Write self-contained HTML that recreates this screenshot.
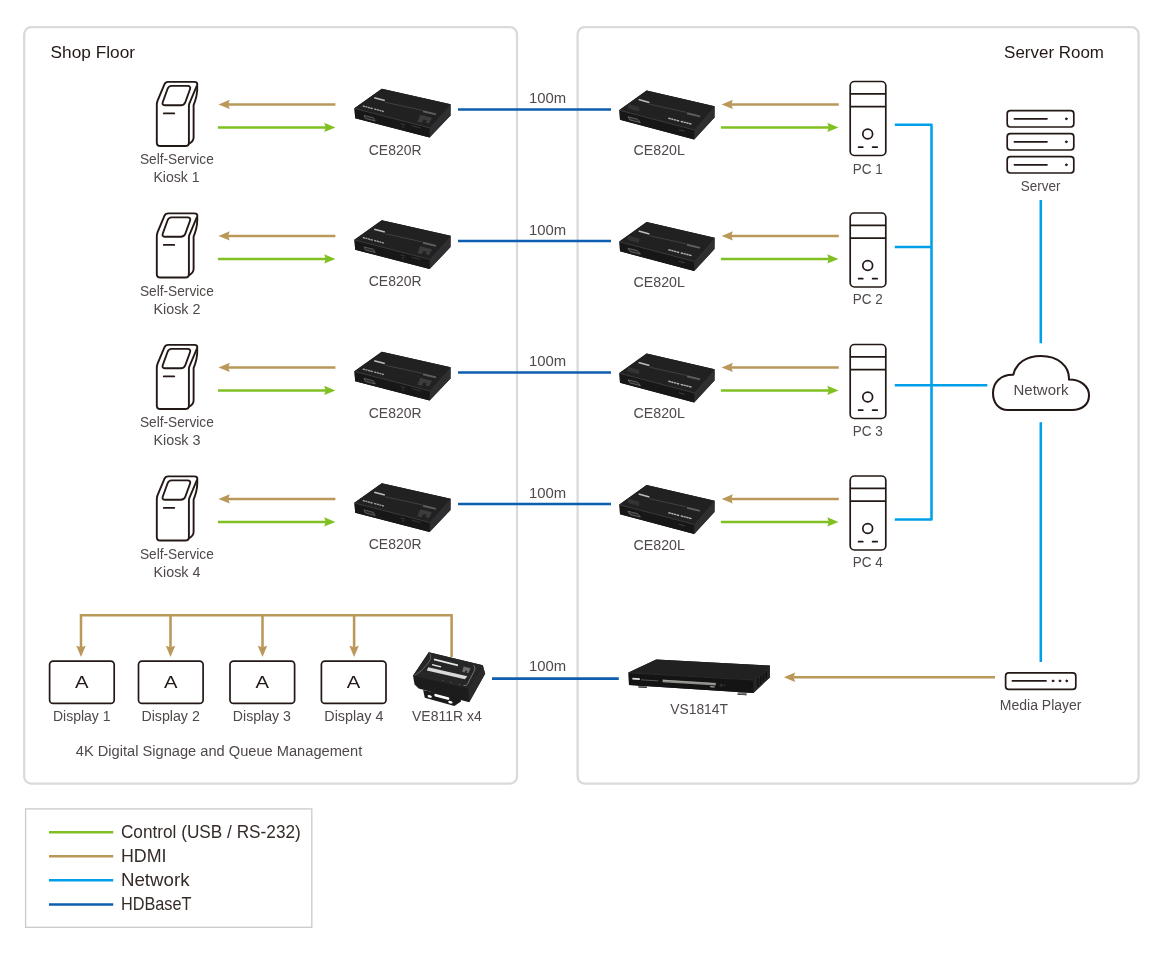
<!DOCTYPE html>
<html><head><meta charset="utf-8"><title>Diagram</title>
<style>
html,body{margin:0;padding:0;background:#fff;}
body{width:1170px;height:953px;overflow:hidden;font-family:"Liberation Sans",sans-serif;}
svg{display:block;will-change:transform;}
text{font-family:"Liberation Sans",sans-serif;}
</style></head><body>
<svg width="1170" height="953" viewBox="0 0 1170 953">
<defs>

<path id="ah" d="M0 0 L-11.2 -4.7 L-9.7 0 L-11.2 4.7 Z"/>
<g id="kiosk" fill="none" stroke="#231815" stroke-width="1.9" stroke-linejoin="round" stroke-linecap="round">
<path d="M197.2 84.4 Q197.6 92 196.3 96.8 Q195.3 100.8 193.6 105.2 V137.6 Q193.6 141.8 188 144.4"/>
<path d="M168.2 81.9 H194.2 Q198.3 81.9 196.9 85.6 L189.4 103.4 Q188.9 104.8 188.9 106 V142.4 Q188.9 146 185.2 146 H160.4 Q156.8 146 156.8 142.4 V105 Q156.8 102.6 157.6 100.6 L164.4 84.4 Q165.4 81.9 168.2 81.9 Z" fill="#fff"/>
<path d="M171.6 85.9 H187.4 Q191.2 85.9 190 89.2 L185.4 102 Q184.2 105.3 180.8 105.3 H165.4 Q161.6 105.3 162.8 102 L167.6 88.8 Q168.7 85.9 171.6 85.9 Z"/>
<path d="M163.8 113.4 H174.2"/>
</g>
<g id="pc" fill="none" stroke="#231815" stroke-width="1.7" stroke-linejoin="round" stroke-linecap="round">
<rect x="850.2" y="81.5" width="35.6" height="74" rx="4.2" fill="#fff"/>
<path d="M850.2 93.8 H885.8 M850.2 106.6 H885.8" stroke-linecap="butt"/>
<circle cx="867.7" cy="134" r="4.9"/>
<path d="M858.6 147.2 H862.8 M872.6 147.2 H877.2"/>
</g>
<g id="cer">
<path d="M381.8 88.8 L450.6 104.2 L450.5 115.6 L429.6 137.6 L355.2 118.2 L354.4 108.2 Z" fill="#1a1a1b"/>
<path d="M381.8 88.8 L450.6 104.2 L429.8 127.6 L354.4 108.2 Z" fill="#212122"/>
<path d="M354.4 108.2 L429.8 127.6 L429.6 137.6 L355.2 118.2 Z" fill="#171718"/>
<path d="M429.8 127.6 L450.6 104.2 L450.5 115.6 L429.6 137.6 Z" fill="#2f2f31"/>
<path d="M354.8 108.5 L429.8 127.9" stroke="#454547" stroke-width="0.8" fill="none"/>
<path d="M374.2 97.8 L384.8 100.5" stroke="#bdbdbd" stroke-width="1.5" fill="none"/>
<path d="M362.8 106 L383.8 111.5" stroke="#a2a2a2" stroke-width="1.3" stroke-dasharray="2.2 0.5 2 0.5 2.2 0.5 2.4 1.4 2.4 0.5 2 0.5 2.2 0.5 2.3" fill="none"/>
<path d="M385 102.2 L422.5 110.4" stroke="#4d4d4f" stroke-width="0.7" fill="none"/>
<path d="M423 111.2 L436 114.4" stroke="#5e5e60" stroke-width="2" fill="none"/>
<path d="M420.2 114.8 L432 117.7 L429 123.4 L425.4 122.5 L426.6 120.2 L423.6 119.5 L421.4 122.8 L417.4 121.8 Z" fill="#3c3c3e"/>
<path d="M364 115.4 L373.4 117.8 L375.2 121 L365.4 118.5 Z" fill="#2a2a2a" stroke="#6f6f6f" stroke-width="0.7"/>
<circle cx="403" cy="126.6" r="1.1" fill="none" stroke="#3c3c3e" stroke-width="0.5"/>
<path d="M400.4 123.4 L405 124.6 M411.6 125.6 L420.6 128" stroke="#3e3e40" stroke-width="0.8" fill="none"/>
</g>
<g id="cel">
<path d="M646.6 90.4 L714.6 106.2 L714.5 117.6 L694.2 139.6 L620 119.8 L619.4 110 Z" fill="#1a1a1b"/>
<path d="M646.6 90.4 L714.6 106.2 L694.4 129.6 L619.4 110 Z" fill="#212122"/>
<path d="M619.4 110 L694.4 129.6 L694.2 139.6 L620 119.8 Z" fill="#171718"/>
<path d="M694.4 129.6 L714.6 106.2 L714.5 117.6 L694.2 139.6 Z" fill="#2f2f31"/>
<path d="M619.8 110.3 L694.4 129.9" stroke="#454547" stroke-width="0.8" fill="none"/>
<path d="M638.6 99.6 L649.4 102.4" stroke="#bdbdbd" stroke-width="1.5" fill="none"/>
<path d="M628 104 L639.4 107 L639 111.4 L627.6 108.4 Z" fill="#333335"/>
<path d="M649.5 104.2 L686.5 112.4" stroke="#4d4d4f" stroke-width="0.7" fill="none"/>
<path d="M687 113.2 L700 116.4" stroke="#5e5e60" stroke-width="2" fill="none"/>
<path d="M668.4 118.2 L691.8 124.2" stroke="#b4b4b4" stroke-width="1.4" stroke-dasharray="2.4 0.5 2.2 0.5 2.4 0.5 2.6 1.6 2.6 0.5 2.2 0.5 2.4 0.5 2.5" fill="none"/>
<path d="M628 116.8 L637.6 119.2 L640.4 122.6 L630 120 Z" fill="#2a2a2a" stroke="#7a7a7a" stroke-width="0.7"/>
<path d="M679 129.8 L684.6 131.3" stroke="#48484a" stroke-width="0.8" fill="none"/>
</g>
<g id="disp"><rect x="49.6" y="661.2" width="64.6" height="42.2" rx="3.5" fill="#fff" stroke="#231815" stroke-width="1.7"/>
<text x="75.0" y="688.0" font-size="17.2" fill="#231815" textLength="13.5" lengthAdjust="spacingAndGlyphs">A</text></g>
</defs>
<rect width="1170" height="953" fill="#fff"/>
<rect x="24.2" y="27.2" width="492.8" height="756.4" rx="7" fill="none" stroke="#d9dada" stroke-width="2.3"/>
<rect x="577.6" y="27.2" width="561" height="756.4" rx="7" fill="none" stroke="#d9dada" stroke-width="2.3"/>
<text x="50.5" y="57.9" font-size="17.4" fill="#231815" textLength="84.5" lengthAdjust="spacingAndGlyphs">Shop Floor</text>
<text x="1004.1" y="58.0" font-size="17.4" fill="#231815" textLength="99.9" lengthAdjust="spacingAndGlyphs">Server Room</text>
<g transform="translate(0 0.0)">
<use href="#kiosk"/>
<text x="139.9" y="164.0" font-size="15.2" fill="#4f4948" textLength="73.9" lengthAdjust="spacingAndGlyphs">Self-Service</text>
<text x="153.4" y="182.4" font-size="15.2" fill="#4f4948" textLength="46.1" lengthAdjust="spacingAndGlyphs">Kiosk 1</text>
<path d="M335.4 104.4 H228" stroke="#ba9859" stroke-width="2.55" fill="none"/>
<use href="#ah" transform="translate(218.5 104.4) scale(-1 1)" fill="#ba9859"/>
<path d="M217.9 127.4 H326" stroke="#80c022" stroke-width="2.55" fill="none"/>
<use href="#ah" transform="translate(335.4 127.4)" fill="#80c022"/>
<use href="#cer"/>
<text x="368.8" y="154.8" font-size="15.2" fill="#4f4948" textLength="52.7" lengthAdjust="spacingAndGlyphs">CE820R</text>
<path d="M458 109.4 H611" stroke="#0d5eae" stroke-width="2.55" fill="none"/>
<text x="528.9" y="103.4" font-size="15.2" fill="#4f4948" textLength="37.2" lengthAdjust="spacingAndGlyphs">100m</text>
<use href="#cel"/>
<text x="633.6" y="155.2" font-size="15.2" fill="#4f4948" textLength="51.3" lengthAdjust="spacingAndGlyphs">CE820L</text>
<path d="M838.8 104.4 H731" stroke="#ba9859" stroke-width="2.55" fill="none"/>
<use href="#ah" transform="translate(721.6 104.4) scale(-1 1)" fill="#ba9859"/>
<path d="M720.9 127.4 H829" stroke="#80c022" stroke-width="2.55" fill="none"/>
<use href="#ah" transform="translate(838.5 127.4)" fill="#80c022"/>
<use href="#pc"/>
<text x="852.8" y="174.0" font-size="15.2" fill="#4f4948" textLength="29.9" lengthAdjust="spacingAndGlyphs">PC 1</text>
</g>
<g transform="translate(0 131.5)">
<use href="#kiosk"/>
<text x="139.9" y="164.0" font-size="15.2" fill="#4f4948" textLength="73.9" lengthAdjust="spacingAndGlyphs">Self-Service</text>
<text x="153.4" y="182.4" font-size="15.2" fill="#4f4948" textLength="47.1" lengthAdjust="spacingAndGlyphs">Kiosk 2</text>
<path d="M335.4 104.4 H228" stroke="#ba9859" stroke-width="2.55" fill="none"/>
<use href="#ah" transform="translate(218.5 104.4) scale(-1 1)" fill="#ba9859"/>
<path d="M217.9 127.4 H326" stroke="#80c022" stroke-width="2.55" fill="none"/>
<use href="#ah" transform="translate(335.4 127.4)" fill="#80c022"/>
<use href="#cer"/>
<text x="368.8" y="154.8" font-size="15.2" fill="#4f4948" textLength="52.7" lengthAdjust="spacingAndGlyphs">CE820R</text>
<path d="M458 109.4 H611" stroke="#0d5eae" stroke-width="2.55" fill="none"/>
<text x="528.9" y="103.4" font-size="15.2" fill="#4f4948" textLength="37.2" lengthAdjust="spacingAndGlyphs">100m</text>
<use href="#cel"/>
<text x="633.6" y="155.2" font-size="15.2" fill="#4f4948" textLength="51.3" lengthAdjust="spacingAndGlyphs">CE820L</text>
<path d="M838.8 104.4 H731" stroke="#ba9859" stroke-width="2.55" fill="none"/>
<use href="#ah" transform="translate(721.6 104.4) scale(-1 1)" fill="#ba9859"/>
<path d="M720.9 127.4 H829" stroke="#80c022" stroke-width="2.55" fill="none"/>
<use href="#ah" transform="translate(838.5 127.4)" fill="#80c022"/>
<use href="#pc"/>
<text x="852.8" y="172.2" font-size="15.2" fill="#4f4948" textLength="29.9" lengthAdjust="spacingAndGlyphs">PC 2</text>
</g>
<g transform="translate(0 263.0)">
<use href="#kiosk"/>
<text x="139.9" y="164.0" font-size="15.2" fill="#4f4948" textLength="73.9" lengthAdjust="spacingAndGlyphs">Self-Service</text>
<text x="153.4" y="182.4" font-size="15.2" fill="#4f4948" textLength="47.1" lengthAdjust="spacingAndGlyphs">Kiosk 3</text>
<path d="M335.4 104.4 H228" stroke="#ba9859" stroke-width="2.55" fill="none"/>
<use href="#ah" transform="translate(218.5 104.4) scale(-1 1)" fill="#ba9859"/>
<path d="M217.9 127.4 H326" stroke="#80c022" stroke-width="2.55" fill="none"/>
<use href="#ah" transform="translate(335.4 127.4)" fill="#80c022"/>
<use href="#cer"/>
<text x="368.8" y="154.8" font-size="15.2" fill="#4f4948" textLength="52.7" lengthAdjust="spacingAndGlyphs">CE820R</text>
<path d="M458 109.4 H611" stroke="#0d5eae" stroke-width="2.55" fill="none"/>
<text x="528.9" y="103.4" font-size="15.2" fill="#4f4948" textLength="37.2" lengthAdjust="spacingAndGlyphs">100m</text>
<use href="#cel"/>
<text x="633.6" y="155.2" font-size="15.2" fill="#4f4948" textLength="51.3" lengthAdjust="spacingAndGlyphs">CE820L</text>
<path d="M838.8 104.4 H731" stroke="#ba9859" stroke-width="2.55" fill="none"/>
<use href="#ah" transform="translate(721.6 104.4) scale(-1 1)" fill="#ba9859"/>
<path d="M720.9 127.4 H829" stroke="#80c022" stroke-width="2.55" fill="none"/>
<use href="#ah" transform="translate(838.5 127.4)" fill="#80c022"/>
<use href="#pc"/>
<text x="852.8" y="172.6" font-size="15.2" fill="#4f4948" textLength="29.9" lengthAdjust="spacingAndGlyphs">PC 3</text>
</g>
<g transform="translate(0 394.5)">
<use href="#kiosk"/>
<text x="139.9" y="164.0" font-size="15.2" fill="#4f4948" textLength="73.9" lengthAdjust="spacingAndGlyphs">Self-Service</text>
<text x="153.4" y="182.4" font-size="15.2" fill="#4f4948" textLength="47.1" lengthAdjust="spacingAndGlyphs">Kiosk 4</text>
<path d="M335.4 104.4 H228" stroke="#ba9859" stroke-width="2.55" fill="none"/>
<use href="#ah" transform="translate(218.5 104.4) scale(-1 1)" fill="#ba9859"/>
<path d="M217.9 127.4 H326" stroke="#80c022" stroke-width="2.55" fill="none"/>
<use href="#ah" transform="translate(335.4 127.4)" fill="#80c022"/>
<use href="#cer"/>
<text x="368.8" y="154.8" font-size="15.2" fill="#4f4948" textLength="52.7" lengthAdjust="spacingAndGlyphs">CE820R</text>
<path d="M458 109.4 H611" stroke="#0d5eae" stroke-width="2.55" fill="none"/>
<text x="528.9" y="103.4" font-size="15.2" fill="#4f4948" textLength="37.2" lengthAdjust="spacingAndGlyphs">100m</text>
<use href="#cel"/>
<text x="633.6" y="155.2" font-size="15.2" fill="#4f4948" textLength="51.3" lengthAdjust="spacingAndGlyphs">CE820L</text>
<path d="M838.8 104.4 H731" stroke="#ba9859" stroke-width="2.55" fill="none"/>
<use href="#ah" transform="translate(721.6 104.4) scale(-1 1)" fill="#ba9859"/>
<path d="M720.9 127.4 H829" stroke="#80c022" stroke-width="2.55" fill="none"/>
<use href="#ah" transform="translate(838.5 127.4)" fill="#80c022"/>
<use href="#pc"/>
<text x="852.8" y="172.7" font-size="15.2" fill="#4f4948" textLength="29.9" lengthAdjust="spacingAndGlyphs">PC 4</text>
</g>
<path d="M894.8 124.8 H931.5 V519.4 H894.8 M894.8 247 H931.5 M894.8 385.2 H987.3" stroke="#00a0e9" stroke-width="2.55" fill="none" stroke-linejoin="round"/>
<path d="M1040.8 200 V343.2 M1040.8 422.3 V661.9" stroke="#00a0e9" stroke-width="2.55" fill="none"/>
<g fill="#fff" stroke="#231815" stroke-width="1.7" stroke-linecap="round">
<rect x="1007.2" y="110.6" width="66.6" height="16.4" rx="3.2"/>
<path d="M1014.4 118.8 H1047" fill="none"/>
<circle cx="1066.3" cy="118.8" r="0.9" fill="#231815" stroke-width="1"/>
<rect x="1007.2" y="133.6" width="66.6" height="16.4" rx="3.2"/>
<path d="M1014.4 141.8 H1047" fill="none"/>
<circle cx="1066.3" cy="141.8" r="0.9" fill="#231815" stroke-width="1"/>
<rect x="1007.2" y="156.6" width="66.6" height="16.4" rx="3.2"/>
<path d="M1014.4 164.8 H1047" fill="none"/>
<circle cx="1066.3" cy="164.8" r="0.9" fill="#231815" stroke-width="1"/>
</g>
<text x="1020.8" y="191.1" font-size="15.2" fill="#4f4948" textLength="39.7" lengthAdjust="spacingAndGlyphs">Server</text>
<path d="M1008 410 C998 410 993 402 993 393 C993 382 1001 374.5 1013.3 374.8 C1016 363 1026 356 1041 356 C1058 356 1069.5 366 1069 379.6 C1081 379.5 1089 386.5 1089 395.5 C1089 404.5 1082 410 1072 410 Z" fill="#fff" stroke="#231815" stroke-width="2.05" stroke-linejoin="round"/>
<text x="1013.5" y="394.8" font-size="15.2" fill="#4f4948" textLength="55.0" lengthAdjust="spacingAndGlyphs">Network</text>
<g fill="#fff" stroke="#231815" stroke-width="1.7" stroke-linecap="round"><rect x="1005.6" y="672.8" width="70.2" height="16.6" rx="3.2"/><path d="M1012.4 680.9 H1046" fill="none"/>
<circle cx="1053" cy="680.9" r="0.9" fill="#231815" stroke-width="1"/>
<circle cx="1059.9" cy="680.9" r="0.9" fill="#231815" stroke-width="1"/>
<circle cx="1066.7" cy="680.9" r="0.9" fill="#231815" stroke-width="1"/>
</g>
<text x="999.8" y="710.4" font-size="15.2" fill="#4f4948" textLength="81.7" lengthAdjust="spacingAndGlyphs">Media Player</text>
<path d="M995 677.3 H793.4" stroke="#ba9859" stroke-width="2.55" fill="none"/>
<use href="#ah" transform="translate(783.9 677.3) scale(-1 1)" fill="#ba9859"/>
<g id="vs">
<path d="M638.4 684.6 L646.8 685.1 L646.8 687.9 L638.4 687.4 Z M737.6 692 L746.6 692.5 L746.6 695.2 L737.6 694.7 Z" fill="#7d7d7d"/>
<path d="M638.4 686.6 L646.8 687.1 L646.8 687.9 L638.4 687.4 Z M737.6 693.9 L746.6 694.4 L746.6 695.2 L737.6 694.7 Z" fill="#3a3a3a"/>
<path d="M656.2 659.6 L769.8 665.6 L769.8 677.4 L753.4 693 L629 684.9 L628.5 672.4 Z" fill="#19191a"/>
<path d="M656.2 659.6 L769.8 665.6 L753.4 679.6 L628.5 672.4 Z" fill="#212122"/>
<path d="M628.5 672.4 L753.4 679.6 L753.4 693 L629 684.9 Z" fill="#141415"/>
<path d="M753.4 679.6 L769.8 665.6 L769.8 677.4 L753.4 693 Z" fill="#262627"/>
<path d="M757.8 678.2 L757.8 686.6 M760.6 675.8 L760.6 684 M763.4 673.4 L763.4 681.4 M766.2 671 L766.2 678.6" stroke="#101011" stroke-width="1.4" fill="none"/>
<path d="M628.8 672.8 L753.4 680" stroke="#333335" stroke-width="0.7" fill="none"/>
<path d="M632.4 678.6 L639.8 679.1" stroke="#e4e4e4" stroke-width="1.9" fill="none"/>
<path d="M641 679.8 L658.4 680.9" stroke="#58585a" stroke-width="1" fill="none"/>
<path d="M662.6 681 L715.8 684.3" stroke="#8d8d88" stroke-width="2.3" fill="none"/>
<path d="M662.6 680.1 L715.8 683.4" stroke="#bcbcb6" stroke-width="0.6" fill="none"/>
<path d="M710.2 686.7 L714.6 687" stroke="#c4c4c4" stroke-width="1" fill="none"/>
<circle cx="721.3" cy="685.3" r="1.7" fill="#2c2c2e"/>
<circle cx="724.6" cy="685" r="0.5" fill="#6a6a6a"/>
</g>
<text x="670.2" y="713.5" font-size="15.2" fill="#4f4948" textLength="57.8" lengthAdjust="spacingAndGlyphs">VS1814T</text>
<path d="M492 678.6 H618.8" stroke="#0d5eae" stroke-width="2.55" fill="none"/>
<text x="528.9" y="671.0" font-size="15.2" fill="#4f4948" textLength="37.2" lengthAdjust="spacingAndGlyphs">100m</text>
<path d="M451.6 657 V615.3 H81.0 V647.4" stroke="#ba9859" stroke-width="2.55" fill="none" stroke-linejoin="miter"/>
<use href="#ah" transform="translate(81.0 656.9) rotate(90)" fill="#ba9859"/>
<path d="M170.5 615.3 V647.4" stroke="#ba9859" stroke-width="2.55" fill="none"/>
<use href="#ah" transform="translate(170.5 656.9) rotate(90)" fill="#ba9859"/>
<path d="M262.5 615.3 V647.4" stroke="#ba9859" stroke-width="2.55" fill="none"/>
<use href="#ah" transform="translate(262.5 656.9) rotate(90)" fill="#ba9859"/>
<path d="M354.1 615.3 V647.4" stroke="#ba9859" stroke-width="2.55" fill="none"/>
<use href="#ah" transform="translate(354.1 656.9) rotate(90)" fill="#ba9859"/>
<use href="#disp" transform="translate(0 0)"/>
<use href="#disp" transform="translate(88.9 0)"/>
<use href="#disp" transform="translate(180.4 0)"/>
<use href="#disp" transform="translate(271.8 0)"/>
<text x="53.0" y="721.2" font-size="15.2" fill="#4f4948" textLength="57.5" lengthAdjust="spacingAndGlyphs">Display 1</text>
<text x="141.4" y="721.2" font-size="15.2" fill="#4f4948" textLength="58.4" lengthAdjust="spacingAndGlyphs">Display 2</text>
<text x="232.8" y="721.2" font-size="15.2" fill="#4f4948" textLength="58.1" lengthAdjust="spacingAndGlyphs">Display 3</text>
<text x="324.3" y="721.2" font-size="15.2" fill="#4f4948" textLength="59.1" lengthAdjust="spacingAndGlyphs">Display 4</text>
<g id="ve">
<path d="M423.1 690 L424.8 697.8 L454.4 706 L461 701.6 L460.6 698 Z" fill="#1b1b1c"/>
<ellipse cx="429.7" cy="696.4" rx="2.2" ry="1.3" fill="#fff" transform="rotate(14 429.7 696.4)"/>
<ellipse cx="450.4" cy="702.2" rx="2.2" ry="1.3" fill="#fff" transform="rotate(14 450.4 702.2)"/>
<path d="M435.6 695.2 L448 698.6" stroke="#fff" stroke-width="2.6" stroke-linecap="round" fill="none"/>
<path d="M428.8 652.2 L482.8 665.3 L485.1 673.8 L469.2 702.2 L418.6 688.6 L414.6 684.4 L413 675.8 Z" fill="#1c1c1d"/>
<path d="M428.8 652.2 L482.8 665.3 L468.2 688.4 L413 675.8 Z" fill="#262627"/>
<path d="M482.8 665.3 L485.1 673.8 L469.2 702.2 L468.2 688.4 Z" fill="#2a2a2c"/>
<path d="M428.2 667.2 L467.4 676.2 L464.8 679.2 L426.8 670.4 Z" fill="#d9d9d9"/>
<path d="M434 659.4 L458 665.4" stroke="#e6e6e6" stroke-width="1.7" fill="none"/>
<path d="M432 664.6 L441 666.9" stroke="#f0f0f0" stroke-width="1.3" fill="none"/>
<path d="M463.6 666.6 L470.6 668.3 L468.4 673.2 L466.6 672.8 L467.4 671 L465.6 670.6 L464.4 672.4 L462.2 671.8 Z" fill="#6e6e6e"/>
<path d="M430 653.6 Q432.4 658 427 664.6 Q421.6 671.6 414.6 675.4" stroke="#8a8a8a" stroke-width="0.6" fill="none"/>
<path d="M473.4 665.2 Q476.4 667.6 473.4 672.6 Q470.4 678 468 683.2 Q466.6 686.4 463.6 685.6" stroke="#9a9a9a" stroke-width="0.7" fill="none"/>
<path d="M442.6 680.4 L443.4 680.6 M450.6 682.4 L451.4 682.6 M459 684.6 L459.8 684.8" stroke="#777" stroke-width="1" fill="none"/>
</g>
<text x="412.0" y="721.2" font-size="15.2" fill="#4f4948" textLength="69.7" lengthAdjust="spacingAndGlyphs">VE811R x4</text>
<text x="75.8" y="755.8" font-size="15.2" fill="#4f4948" textLength="286.4" lengthAdjust="spacingAndGlyphs">4K Digital Signage and Queue Management</text>
<rect x="25.6" y="808.9" width="286.2" height="118.4" fill="#fff" stroke="#c9caca" stroke-width="1.3"/>
<path d="M49 832.3 H113.2" stroke="#80c022" stroke-width="2.5" fill="none"/>
<text x="120.9" y="837.5" font-size="18.4" fill="#352b29" textLength="179.9" lengthAdjust="spacingAndGlyphs">Control (USB / RS-232)</text>
<path d="M49 856.3 H113.2" stroke="#ba9859" stroke-width="2.5" fill="none"/>
<text x="120.9" y="862.0" font-size="18.4" fill="#352b29" textLength="45.6" lengthAdjust="spacingAndGlyphs">HDMI</text>
<path d="M49 880.3 H113.2" stroke="#00a0e9" stroke-width="2.5" fill="none"/>
<text x="120.9" y="885.9" font-size="18.4" fill="#352b29" textLength="68.6" lengthAdjust="spacingAndGlyphs">Network</text>
<path d="M49 904.4 H113.2" stroke="#0d5eae" stroke-width="2.5" fill="none"/>
<text x="120.9" y="910.1" font-size="18.4" fill="#352b29" textLength="70.6" lengthAdjust="spacingAndGlyphs">HDBaseT</text>
</svg></body></html>
